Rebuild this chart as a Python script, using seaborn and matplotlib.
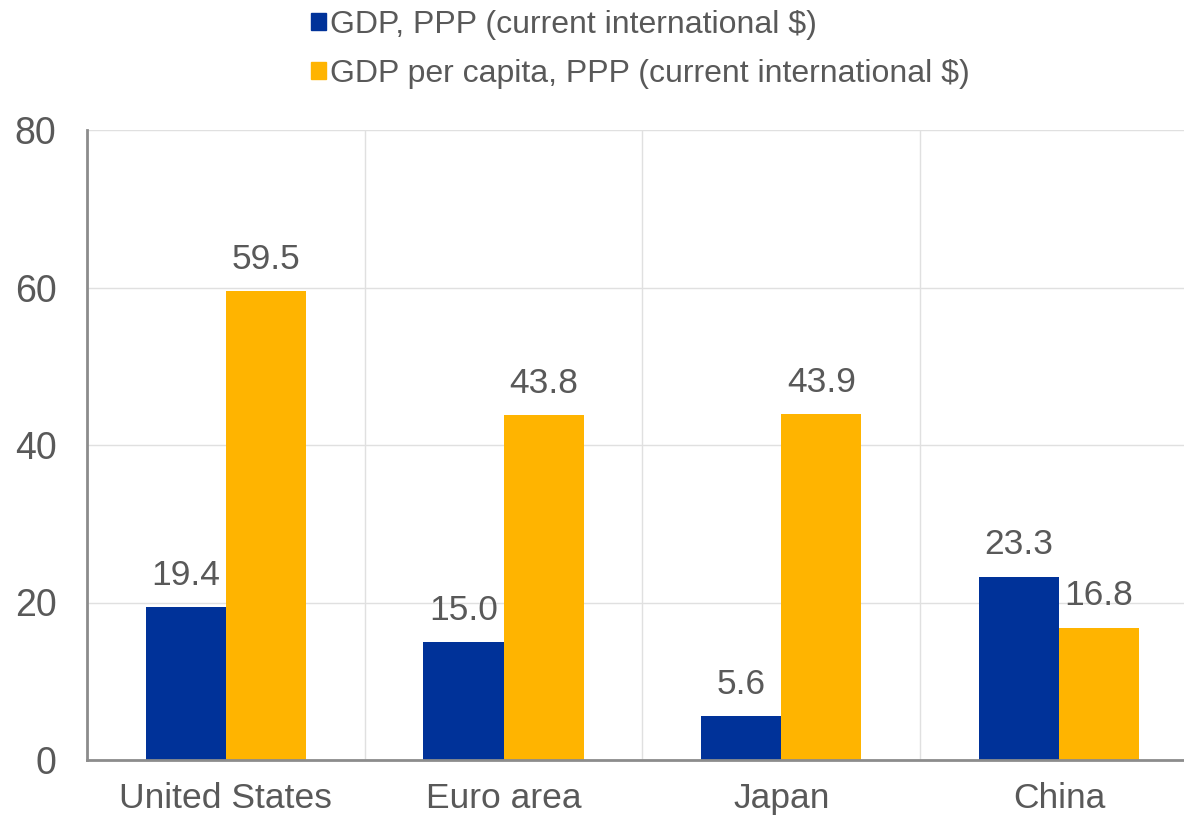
import matplotlib
matplotlib.use("Agg")
import matplotlib.pyplot as plt
import numpy as np
import pandas as pd
import seaborn as sns

# values
countries = ["United States", "Euro area", "Japan", "China"]
gdp_ppp = [19.4, 15.0, 5.6, 23.3]
gdp_pc_ppp = [59.5, 43.8, 43.9, 16.8]
series = ["GDP, PPP (current international $)",
          "GDP per capita, PPP (current international $)"]
colors = ["#003299", "#FFB400"]

df = pd.DataFrame({
    "country": countries * 2,
    "value": gdp_ppp + gdp_pc_ppp,
    "series": [series[0]] * len(countries) + [series[1]] * len(countries),
})

sns.set_style("white")
plt.rcParams['font.family'] = ['Liberation Sans', 'DejaVu Sans']
txt = "#595959"
axcol = "#8c8c8c"

fig = plt.figure(figsize=(11.84, 8.17), dpi=100)
ax = fig.add_axes([87 / 1184, 1 - 760 / 817, 1 - 87 / 1184, (760 - 130) / 817])

sns.barplot(data=df, x="country", y="value", hue="series", palette=colors,
            width=0.577, gap=0, linewidth=0, saturation=1, ax=ax, legend=False)

for cont in ax.containers:
    ax.bar_label(cont, fmt="%.1f", padding=11, fontsize=25.5, color=txt)

ax.set_ylim(0, 80)
ax.set_yticks([0, 20, 40, 60, 80])
# category boundaries as minor ticks / vertical grid
ax.set_xticks(np.arange(-0.5, 3, 1), minor=True)
ax.set_xlim(-0.5, 3.45)
ax.set_xlabel("")
ax.set_ylabel("")

ax.tick_params(axis="x", which="major", length=0, labelsize=25.5, labelcolor=txt, pad=16)
ax.tick_params(axis="x", which="minor", length=8, width=2, color=axcol, direction="out")
ax.tick_params(axis="y", which="major", length=9, width=2, color=axcol, direction="in",
               labelsize=27, labelcolor=txt, pad=22)
ax.grid(axis="y", which="major", color="#e0e0e0", linewidth=1)
ax.grid(axis="x", which="minor", color="#e0e0e0", linewidth=1)
ax.set_axisbelow(True)

for s in ["top", "right"]:
    ax.spines[s].set_visible(False)
for s in ["left", "bottom"]:
    ax.spines[s].set_color(axcol)
    ax.spines[s].set_linewidth(2)

handles = [plt.Rectangle((0, 0), 1, 1, color=c) for c in colors]
fig.legend(handles, series, loc="upper left", bbox_to_anchor=(0.252, 1.004),
           frameon=False, fontsize=23, labelcolor=txt, handlelength=0.45,
           handleheight=0.45, handletextpad=0.15, labelspacing=0.6, borderaxespad=0)

fig.savefig("out.png", dpi=100)
